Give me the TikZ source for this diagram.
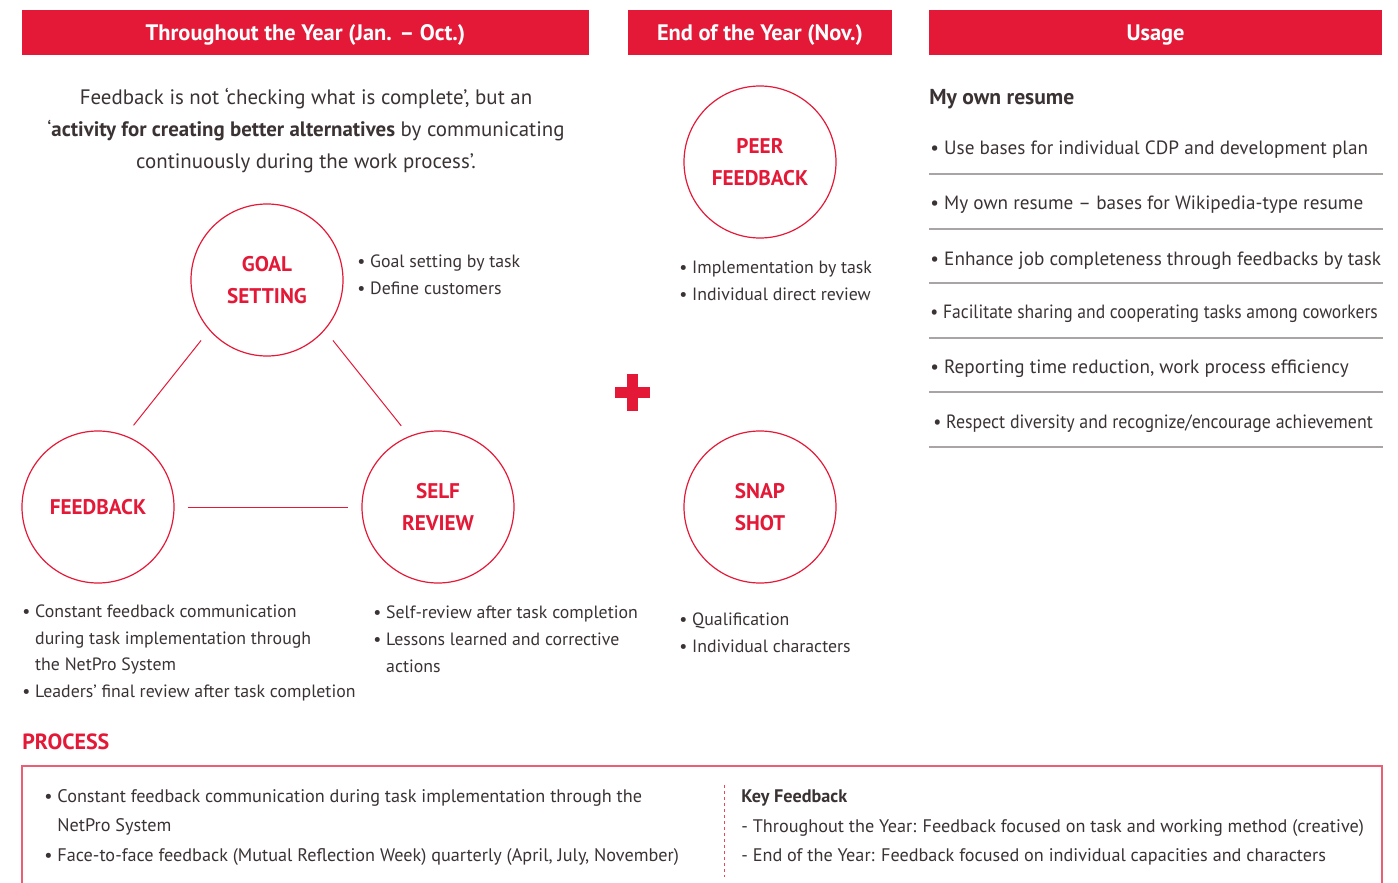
\documentclass[tikz,border=0pt]{standalone}
\usepackage{fontspec}
\usepackage{graphicx}
\setmainfont{PT Sans}
\usetikzlibrary{positioning, calc}
\definecolor{rd}{HTML}{E31937}
\definecolor{tx}{HTML}{3A3233}
\definecolor{gr}{HTML}{A9A5A5}
\newcommand{\indt}{\hphantom{•\ }}
\newcommand{\narrow}[2]{\scalebox{#1}[1]{#2}}
\tikzset{
  hd/.style = {fill=rd, text=white, inner sep=0pt, minimum height=22.5pt,
    text depth=0pt, font=\bfseries\fontsize{11.2}{13}\selectfont},
  circ/.style = {circle, draw=rd, line width=0.6pt, minimum size=76pt,
    inner sep=0pt, align=center, text=rd,
    font=\bfseries\fontsize{10.6}{16}\selectfont},
  lk/.style = {draw=rd, line width=0.5pt, shorten >=6.5pt, shorten <=6.5pt},
  intro/.style = {align=center, text=tx, inner sep=0pt,
    font=\fontsize{10.45}{16}\selectfont},
  lst/.style = {anchor=west, align=left, inner sep=0pt, text=tx,
    font=\fontsize{8.9}{13.4}\selectfont},
  use/.style = {anchor=west, inner sep=0pt, text=tx,
    font=\fontsize{9.6}{12}\selectfont},
  sep/.style = {draw=gr, line width=0.6pt},
  ptitle/.style = {anchor=west, inner sep=0pt, text=rd,
    font=\bfseries\fontsize{11}{13}\selectfont},
  plst/.style = {anchor=west, align=left, inner sep=0pt, text=tx,
    font=\fontsize{9.1}{14.75}\selectfont},
  bx/.style = {draw=rd!70, line width=0.7pt},
  dl/.style = {draw=rd!80, line width=0.5pt, dash pattern=on 1.5pt off 1.5pt}
}

\begin{document}
\begin{tikzpicture}[x=0.5pt, y=-0.5pt]
  \useasboundingbox (0,0) rectangle (1398,883);
  % column headers
  \node [hd, minimum width=283.5pt] (hyear) at (305.5,32.5) {Throughout the Year (Jan. – Oct.)};
  \node [hd, minimum width=132pt] (hend) at (760,32.5) {End of the Year (Nov.)};
  \node [hd, minimum width=226.5pt] (huse) at (1155.5,32.5) {Usage};

  \node [intro] (intro) at (306,131) {Feedback is not ‘checking what is complete’, but an\\
    ‘\textbf{activity for creating better alternatives} by communicating\\
    continuously during the work process’.};

  % cycle
  \node [circ] (goal) at (267,280) {GOAL\\SETTING};
  \node [circ] (fb) at (98,507) {FEEDBACK};
  \node [circ] (self) at (438,507) {SELF\\REVIEW};
  \draw [lk] (goal.221) -- (fb.69);
  \draw [lk] (goal.319) -- (self.112);
  \draw [lk] (fb) -- (self);

  \node [lst] (goallist) at (357,274.5) {• Goal setting by task\\• Define customers};
  \node [lst] (fblist) at (22,653) {• Constant feedback communication\\
    \indt during task implementation through\\
    \indt the NetPro System\\
    • Leaders’ final review after task completion};
  \node [lst] (selflist) at (373,639.5) {• Self-review after task completion\\
    • Lessons learned and corrective\\
    \indt actions};

  % plus
  \fill [rd] (615,387) rectangle (650,398);
  \fill [rd] (627,374) rectangle (638,411);

  % end of year
  \node [circ] (peer) at (760,162) {PEER\\FEEDBACK};
  \node [circ] (snap) at (760,507) {SNAP\\SHOT};
  \node [lst] (peerlist) at (679,280.5) {• Implementation by task\\• Individual direct review};
  \node [lst] (snaplist) at (679,632.5) {• Qualification\\• Individual characters};

  % usage
  \node [use, font=\bfseries\fontsize{10.8}{13}\selectfont] (myres) at (929,99) {My own resume};
  \node [use] (u1) at (930,150) {• Use bases for individual CDP and development plan};
  \node [use] (u2) at (930,205) {• My own resume – bases for Wikipedia-type resume};
  \node [use] (u3) at (930,261) {• Enhance job completeness through feedbacks by task};
  \node [use] (u4) at (930,314) {\narrow{0.915}{• Facilitate sharing and cooperating tasks among coworkers}};
  \node [use] (u5) at (930,369) {• Reporting time reduction, work process efficiency};
  \node [use] (u6) at (933,424) {\narrow{0.93}{• Respect diversity and recognize/encourage achievement}};
  \foreach \y in {174,229,283,338,392,447}
    \draw [sep] (929,\y) -- (1383,\y);

  % process
  \node [ptitle] (proc) at (22,742) {PROCESS};
  \draw [bx] (22,883) |- (1382,766) -- (1382,883);
  \draw [dl] (724,785) -- (724,877);
  \node [plst] (plist) at (44,827.5) {• Constant feedback communication during task implementation through the\\
    \indt NetPro System\\
    • Face-to-face feedback (Mutual Reflection Week) quarterly (April, July, November)};
  \node [plst] (keyfb) at (741,827.5) {\textbf{Key Feedback}\\
    - Throughout the Year: Feedback focused on task and working method (creative)\\
    - End of the Year: Feedback focused on individual capacities and characters};
\end{tikzpicture}
\end{document}
